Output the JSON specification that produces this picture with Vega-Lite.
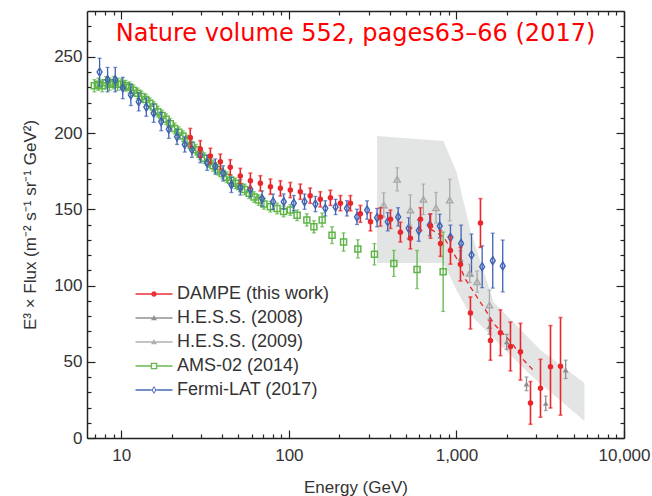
{
"$schema": "https://vega.github.io/schema/vega-lite/v6.json",
"width": 537, "height": 427,
"autosize": {"type": "none"},
"padding": {"left": 87, "top": 11, "right": 28, "bottom": 58},
"background": "white",
"title": {"text": "Nature volume 552, pages63–66 (2017)", "color": "#ff0000", "font": "DejaVu Sans", "fontSize": 24, "fontWeight": "normal", "anchor": "middle", "frame": "group", "orient": "top", "offset": -29, "dy": 26, "baseline": "alphabetic"},
"config": {
  "view": {"stroke": null},
  "axis": {"grid": false, "domainColor": "#222", "domainWidth": 1.5, "tickColor": "#222", "tickWidth": 1.2, "labelFont": "Liberation Sans", "labelFontSize": 17, "labelColor": "#333", "titleFont": "Liberation Sans", "titleFontSize": 17, "titleColor": "#333", "titleFontWeight": "normal", "labelOverlap": false, "labelFlush": false}
},
"resolve": {"axis": {"x": "independent", "y": "independent"}},
"datasets": {
  "band": [
    {"E": 336, "hi": 198, "lo": 114.7},
    {"E": 836, "hi": 194.7, "lo": 114.7},
    {"E": 1000, "hi": 174.6, "lo": 97},
    {"E": 1212, "hi": 136.4, "lo": 80.7},
    {"E": 1663, "hi": 89.2, "lo": 65.5},
    {"E": 2767, "hi": 64.4, "lo": 41.3},
    {"E": 3174, "hi": 57.7, "lo": 35.7},
    {"E": 5807, "hi": 36.1, "lo": 11.1}
  ],
  "fit": [
    {"E": 700, "y": 137}, {"E": 836, "y": 132}, {"E": 1000, "y": 118}, {"E": 1132, "y": 104}, {"E": 1298, "y": 94}, {"E": 1490, "y": 84}, {"E": 1670, "y": 75}, {"E": 2152, "y": 62}, {"E": 2524, "y": 51}, {"E": 2900, "y": 44}
  ],
  "ams": [
    {"E": 6.9, "y": 231, "lo": 227, "hi": 235},
    {"E": 7.3, "y": 232, "lo": 228, "hi": 236},
    {"E": 7.7, "y": 231, "lo": 227, "hi": 235},
    {"E": 8.1, "y": 233, "lo": 229, "hi": 237},
    {"E": 8.5, "y": 232, "lo": 228, "hi": 236},
    {"E": 9.0, "y": 233, "lo": 229, "hi": 237},
    {"E": 9.5, "y": 232, "lo": 228, "hi": 236},
    {"E": 10.0, "y": 232, "lo": 228.5, "hi": 235.5},
    {"E": 10.6, "y": 231, "lo": 227.5, "hi": 234.5},
    {"E": 11.2, "y": 230, "lo": 226.5, "hi": 233.5},
    {"E": 11.8, "y": 228, "lo": 224.5, "hi": 231.5},
    {"E": 12.5, "y": 226, "lo": 222.5, "hi": 229.5},
    {"E": 13.2, "y": 224, "lo": 220.5, "hi": 227.5},
    {"E": 14.0, "y": 222, "lo": 218.5, "hi": 225.5},
    {"E": 14.8, "y": 219.5, "lo": 216, "hi": 223},
    {"E": 15.6, "y": 217, "lo": 213.5, "hi": 220.5},
    {"E": 16.5, "y": 214, "lo": 210.5, "hi": 217.5},
    {"E": 17.5, "y": 211.5, "lo": 208, "hi": 215},
    {"E": 18.5, "y": 209, "lo": 205.5, "hi": 212.5},
    {"E": 19.6, "y": 206, "lo": 202.5, "hi": 209.5},
    {"E": 20.8, "y": 203, "lo": 199.5, "hi": 206.5},
    {"E": 22.0, "y": 200.5, "lo": 197, "hi": 204},
    {"E": 23.3, "y": 198, "lo": 194.5, "hi": 201.5},
    {"E": 24.7, "y": 195, "lo": 191.5, "hi": 198.5},
    {"E": 26.2, "y": 192, "lo": 188.5, "hi": 195.5},
    {"E": 27.8, "y": 189, "lo": 185.5, "hi": 192.5},
    {"E": 29.5, "y": 186, "lo": 182.5, "hi": 189.5},
    {"E": 31.3, "y": 183.5, "lo": 180, "hi": 187},
    {"E": 33.2, "y": 181, "lo": 177.5, "hi": 184.5},
    {"E": 35.3, "y": 178.5, "lo": 175, "hi": 182},
    {"E": 37.5, "y": 176, "lo": 172.5, "hi": 179.5},
    {"E": 40.0, "y": 173.5, "lo": 170, "hi": 177},
    {"E": 42.5, "y": 171, "lo": 167.5, "hi": 174.5},
    {"E": 45.0, "y": 169, "lo": 165.5, "hi": 172.5},
    {"E": 48.0, "y": 167, "lo": 163.5, "hi": 170.5},
    {"E": 51.0, "y": 165, "lo": 161.5, "hi": 168.5},
    {"E": 54.5, "y": 163, "lo": 159.5, "hi": 166.5},
    {"E": 58.0, "y": 160.5, "lo": 157, "hi": 164},
    {"E": 62.0, "y": 158, "lo": 154.5, "hi": 161.5},
    {"E": 66.0, "y": 156, "lo": 152.5, "hi": 159.5},
    {"E": 71.0, "y": 153.5, "lo": 150, "hi": 157},
    {"E": 77.6, "y": 151.7, "lo": 148.2, "hi": 155.2},
    {"E": 85, "y": 150.5, "lo": 147, "hi": 154},
    {"E": 93, "y": 148.5, "lo": 145, "hi": 152},
    {"E": 102, "y": 149.5, "lo": 146, "hi": 153},
    {"E": 112, "y": 146, "lo": 142.5, "hi": 149.5},
    {"E": 128, "y": 143, "lo": 139, "hi": 147},
    {"E": 141, "y": 138.5, "lo": 134.5, "hi": 142.5},
    {"E": 158, "y": 143, "lo": 138.5, "hi": 147.5},
    {"E": 181, "y": 133, "lo": 127.5, "hi": 138.5},
    {"E": 212, "y": 128.5, "lo": 122.5, "hi": 134.5},
    {"E": 258, "y": 124, "lo": 118, "hi": 130},
    {"E": 324, "y": 120.5, "lo": 113.5, "hi": 127.5},
    {"E": 423, "y": 114.5, "lo": 106, "hi": 123},
    {"E": 582, "y": 110.5, "lo": 98, "hi": 123},
    {"E": 833, "y": 109, "lo": 83, "hi": 135}
  ],
  "fermi": [
    {"E": 7.42, "y": 240, "lo": 231, "hi": 249},
    {"E": 8.28, "y": 235, "lo": 227, "hi": 243},
    {"E": 9.2, "y": 235, "lo": 227, "hi": 243},
    {"E": 10.2, "y": 229.5, "lo": 222.5, "hi": 236.5},
    {"E": 11.4, "y": 225, "lo": 218, "hi": 232},
    {"E": 12.7, "y": 220.5, "lo": 214.5, "hi": 226.5},
    {"E": 14.1, "y": 217, "lo": 211, "hi": 223},
    {"E": 15.6, "y": 213, "lo": 207, "hi": 219},
    {"E": 17.3, "y": 207.5, "lo": 201.5, "hi": 213.5},
    {"E": 19.2, "y": 202.5, "lo": 196.5, "hi": 208.5},
    {"E": 21.5, "y": 197.5, "lo": 192.5, "hi": 202.5},
    {"E": 23.9, "y": 192.5, "lo": 187.5, "hi": 197.5},
    {"E": 26.4, "y": 189, "lo": 184, "hi": 194},
    {"E": 29.6, "y": 185.5, "lo": 180.5, "hi": 190.5},
    {"E": 32.5, "y": 180.5, "lo": 175.5, "hi": 185.5},
    {"E": 36.4, "y": 178, "lo": 173, "hi": 183},
    {"E": 40.5, "y": 173.5, "lo": 168.5, "hi": 178.5},
    {"E": 45.4, "y": 166, "lo": 161, "hi": 171},
    {"E": 51.3, "y": 164.3, "lo": 159.3, "hi": 169.3},
    {"E": 58.9, "y": 163, "lo": 158, "hi": 168},
    {"E": 69.2, "y": 157, "lo": 152, "hi": 162},
    {"E": 80.5, "y": 155, "lo": 150, "hi": 160},
    {"E": 93.2, "y": 155, "lo": 150, "hi": 160},
    {"E": 107, "y": 154, "lo": 149, "hi": 159},
    {"E": 124, "y": 155, "lo": 150, "hi": 160},
    {"E": 144, "y": 153.4, "lo": 148.4, "hi": 158.4},
    {"E": 165, "y": 150.6, "lo": 145.6, "hi": 155.6},
    {"E": 190, "y": 151.5, "lo": 146.5, "hi": 156.5},
    {"E": 222, "y": 150.6, "lo": 145.6, "hi": 155.6},
    {"E": 255, "y": 145, "lo": 140, "hi": 150},
    {"E": 293, "y": 149.5, "lo": 143.5, "hi": 155.5},
    {"E": 336, "y": 144.5, "lo": 138.5, "hi": 150.5},
    {"E": 389, "y": 141.8, "lo": 135.8, "hi": 147.8},
    {"E": 449, "y": 145, "lo": 139, "hi": 151},
    {"E": 519, "y": 137.5, "lo": 130.5, "hi": 144.5},
    {"E": 596, "y": 136, "lo": 129, "hi": 143},
    {"E": 693, "y": 139.7, "lo": 132.7, "hi": 146.7},
    {"E": 795, "y": 139, "lo": 131.3, "hi": 146.7},
    {"E": 921, "y": 131.6, "lo": 123.6, "hi": 139.6},
    {"E": 1066, "y": 127.6, "lo": 115.6, "hi": 139.6},
    {"E": 1230, "y": 120, "lo": 106.3, "hi": 133.7},
    {"E": 1424, "y": 112.3, "lo": 98.6, "hi": 126},
    {"E": 1647, "y": 116.3, "lo": 98.3, "hi": 134.3},
    {"E": 1889, "y": 112.8, "lo": 95.8, "hi": 129.8}
  ],
  "hess09": [
    {"E": 368, "y": 152.8, "lo": 144.8, "hi": 160.8},
    {"E": 443, "y": 169.6, "lo": 162, "hi": 177.2},
    {"E": 531, "y": 149.5, "lo": 139.5, "hi": 159.5},
    {"E": 635, "y": 156.5, "lo": 146.5, "hi": 166.5},
    {"E": 755, "y": 151, "lo": 141, "hi": 161},
    {"E": 912, "y": 156, "lo": 142.3, "hi": 169.7},
    {"E": 1200, "y": 108, "lo": 102, "hi": 114},
    {"E": 1329, "y": 102.5, "lo": 95.5, "hi": 109.5},
    {"E": 1574, "y": 87.2, "lo": 77, "hi": 97}
  ],
  "hess08": [
    {"E": 1057, "y": 117.8, "lo": 112.8, "hi": 122.8},
    {"E": 1574, "y": 73, "lo": 68, "hi": 78},
    {"E": 1996, "y": 63, "lo": 58, "hi": 68},
    {"E": 2619, "y": 35.4, "lo": 31, "hi": 40},
    {"E": 3412, "y": 22.7, "lo": 18, "hi": 27.5},
    {"E": 4488, "y": 44.6, "lo": 39, "hi": 51}
  ],
  "dampe": [
    {"E": 25.8, "y": 197, "lo": 191, "hi": 203},
    {"E": 29.6, "y": 189.5, "lo": 184, "hi": 195},
    {"E": 34.0, "y": 185, "lo": 180, "hi": 190},
    {"E": 39.0, "y": 181.2, "lo": 176.2, "hi": 186.2},
    {"E": 44.7, "y": 177.5, "lo": 172.5, "hi": 182.5},
    {"E": 51.3, "y": 171.8, "lo": 166.8, "hi": 176.8},
    {"E": 58.9, "y": 168.7, "lo": 163.7, "hi": 173.7},
    {"E": 67.6, "y": 167, "lo": 162, "hi": 172},
    {"E": 77.6, "y": 164.8, "lo": 159.8, "hi": 169.8},
    {"E": 89.0, "y": 163.7, "lo": 158.7, "hi": 168.7},
    {"E": 102, "y": 162.6, "lo": 157.6, "hi": 167.6},
    {"E": 117, "y": 161.5, "lo": 156.5, "hi": 166.5},
    {"E": 134, "y": 158.9, "lo": 153.9, "hi": 163.9},
    {"E": 154, "y": 156.5, "lo": 151.5, "hi": 161.5},
    {"E": 177, "y": 157.5, "lo": 152.5, "hi": 162.5},
    {"E": 203, "y": 154, "lo": 149, "hi": 159},
    {"E": 233, "y": 154, "lo": 149, "hi": 159},
    {"E": 267, "y": 147, "lo": 141.5, "hi": 152.5},
    {"E": 307, "y": 141.8, "lo": 135.8, "hi": 147.8},
    {"E": 352, "y": 145, "lo": 139, "hi": 151},
    {"E": 404, "y": 143.4, "lo": 137.4, "hi": 149.4},
    {"E": 463, "y": 135, "lo": 128.5, "hi": 141.5},
    {"E": 531, "y": 131, "lo": 124, "hi": 138},
    {"E": 610, "y": 143.5, "lo": 136, "hi": 151},
    {"E": 700, "y": 139, "lo": 131, "hi": 147},
    {"E": 803, "y": 127.6, "lo": 119.1, "hi": 136.1},
    {"E": 921, "y": 123, "lo": 114, "hi": 132},
    {"E": 1057, "y": 114, "lo": 103, "hi": 125},
    {"E": 1212, "y": 82, "lo": 71.5, "hi": 92.5},
    {"E": 1391, "y": 141, "lo": 125, "hi": 157},
    {"E": 1596, "y": 64, "lo": 51, "hi": 77},
    {"E": 1831, "y": 69, "lo": 54, "hi": 84},
    {"E": 2101, "y": 60, "lo": 44, "hi": 76},
    {"E": 2411, "y": 56.6, "lo": 38, "hi": 75.2},
    {"E": 2766, "y": 23, "lo": 9, "hi": 37},
    {"E": 3174, "y": 32.6, "lo": 13.6, "hi": 51.6},
    {"E": 3642, "y": 46.7, "lo": 19.7, "hi": 73.7},
    {"E": 4179, "y": 47, "lo": 15, "hi": 79}
  ]
},
"layer": [
  {
    "data": {"name": "band"},
    "mark": {"type": "area", "color": "#e3e4e4"},
    "encoding": {
      "x": {"field": "E", "type": "quantitative", "scale": {"type": "log", "domain": [6.24, 10000], "nice": false},
        "axis": {"orient": "bottom", "title": "Energy (GeV)", "values": [7,8,9,10,20,30,40,50,60,70,80,90,100,200,300,400,500,600,700,800,900,1000,2000,3000,4000,5000,6000,7000,8000,9000,10000],
          "labelExpr": "indexof([10,100,1000,10000], datum.value) >= 0 ? format(datum.value, ',') : ''",
          "tickSize": {"condition": {"test": "indexof([10,100,1000,10000], datum.value) >= 0", "value": -8}, "value": -4},
          "labelPadding": 17, "titlePadding": 12}},
      "y": {"field": "hi", "type": "quantitative", "scale": {"domain": [0, 280], "nice": false},
        "axis": {"orient": "left", "title": "E³ × Flux (m⁻² s⁻¹ sr⁻¹ GeV²)", "values": [0,10,20,30,40,50,60,70,80,90,100,110,120,130,140,150,160,170,180,190,200,210,220,230,240,250,260,270],
          "labelExpr": "datum.value % 50 === 0 ? datum.label : ''",
          "tickSize": {"condition": {"test": "datum.value % 50 === 0", "value": -8}, "value": -4},
          "labelPadding": 13, "titlePadding": 14}},
      "y2": {"field": "lo"}
    }
  },
  {
    "data": {"name": "ams"},
    "mark": {"type": "errorbar", "color": "#5fb548", "thickness": 1.3, "ticks": {"size": 4}},
    "encoding": {
      "x": {"field": "E", "type": "quantitative", "axis": null},
      "y": {"field": "lo", "type": "quantitative", "axis": null},
      "y2": {"field": "hi"}
    }
  },
  {
    "data": {"name": "ams"},
    "mark": {"type": "point", "shape": "square", "filled": false, "size": 36, "strokeWidth": 1.5, "opacity": 1, "color": "#5fb548"},
    "encoding": {
      "x": {"field": "E", "type": "quantitative", "axis": null},
      "y": {"field": "y", "type": "quantitative", "axis": null}
    }
  },
  {
    "data": {"name": "fermi"},
    "mark": {"type": "errorbar", "color": "#3e62b3", "thickness": 1.3, "ticks": {"size": 4}},
    "encoding": {
      "x": {"field": "E", "type": "quantitative", "axis": null},
      "y": {"field": "lo", "type": "quantitative", "axis": null},
      "y2": {"field": "hi"}
    }
  },
  {
    "data": {"name": "fermi"},
    "mark": {"type": "point", "shape": "M0,-1L0.62,0L0,1L-0.62,0Z", "filled": false, "size": 64, "strokeWidth": 1.4, "opacity": 1, "color": "#3e62b3"},
    "encoding": {
      "x": {"field": "E", "type": "quantitative", "axis": null},
      "y": {"field": "y", "type": "quantitative", "axis": null}
    }
  },
  {
    "data": {"name": "hess09"},
    "mark": {"type": "errorbar", "color": "#a8a8a8", "thickness": 1.3, "ticks": {"size": 4}},
    "encoding": {
      "x": {"field": "E", "type": "quantitative", "axis": null},
      "y": {"field": "lo", "type": "quantitative", "axis": null},
      "y2": {"field": "hi"}
    }
  },
  {
    "data": {"name": "hess09"},
    "mark": {"type": "point", "shape": "triangle-up", "filled": false, "size": 40, "strokeWidth": 1.4, "opacity": 1, "color": "#a8a8a8"},
    "encoding": {
      "x": {"field": "E", "type": "quantitative", "axis": null},
      "y": {"field": "y", "type": "quantitative", "axis": null}
    }
  },
  {
    "data": {"name": "hess08"},
    "mark": {"type": "errorbar", "color": "#8c8c8c", "thickness": 1.3, "ticks": {"size": 4}},
    "encoding": {
      "x": {"field": "E", "type": "quantitative", "axis": null},
      "y": {"field": "lo", "type": "quantitative", "axis": null},
      "y2": {"field": "hi"}
    }
  },
  {
    "data": {"name": "hess08"},
    "mark": {"type": "point", "shape": "triangle-up", "filled": true, "size": 32, "opacity": 1, "color": "#8c8c8c"},
    "encoding": {
      "x": {"field": "E", "type": "quantitative", "axis": null},
      "y": {"field": "y", "type": "quantitative", "axis": null}
    }
  },
  {
    "data": {"name": "fit"},
    "mark": {"type": "line", "color": "#e8262b", "strokeWidth": 1.3, "strokeDash": [5, 4]},
    "encoding": {
      "x": {"field": "E", "type": "quantitative",
        "axis": {"orient": "top", "title": null, "labels": false, "values": [7,8,9,10,20,30,40,50,60,70,80,90,100,200,300,400,500,600,700,800,900,1000,2000,3000,4000,5000,6000,7000,8000,9000,10000],
          "tickSize": {"condition": {"test": "indexof([10,100,1000,10000], datum.value) >= 0", "value": -8}, "value": -4}}},
      "y": {"field": "y", "type": "quantitative",
        "axis": {"orient": "right", "title": null, "labels": false, "values": [0,10,20,30,40,50,60,70,80,90,100,110,120,130,140,150,160,170,180,190,200,210,220,230,240,250,260,270],
          "tickSize": {"condition": {"test": "datum.value % 50 === 0", "value": -8}, "value": -4}}}
    }
  },
  {
    "data": {"name": "dampe"},
    "mark": {"type": "errorbar", "color": "#e8262b", "thickness": 1.6, "ticks": {"size": 4}},
    "encoding": {
      "x": {"field": "E", "type": "quantitative", "axis": null},
      "y": {"field": "lo", "type": "quantitative", "axis": null},
      "y2": {"field": "hi"}
    }
  },
  {
    "data": {"name": "dampe"},
    "mark": {"type": "point", "shape": "circle", "filled": true, "size": 30, "opacity": 1, "color": "#e8262b"},
    "encoding": {
      "x": {"field": "E", "type": "quantitative", "axis": null},
      "y": {"field": "y", "type": "quantitative", "axis": null}
    }
  },
  {
    "data": {"name": "dampe"},
    "mark": {"type": "point", "filled": true, "opacity": 0, "size": 100},
    "encoding": {
      "x": {"field": "E", "type": "quantitative", "axis": null},
      "y": {"field": "y", "type": "quantitative", "axis": null},
      "color": {"datum": "DAMPE (this work)", "type": "nominal",
        "scale": {"domain": ["DAMPE (this work)", "H.E.S.S. (2008)", "H.E.S.S. (2009)", "AMS-02 (2014)", "Fermi-LAT (2017)"], "range": ["#e8262b", "#8c8c8c", "#ababab", "#5fb548", "#3e62b3"]},
        "legend": {"title": null, "orient": "none", "legendX": 58, "legendY": 274, "padding": 0, "symbolSize": 100, "symbolStrokeWidth": 0, "symbolOpacity": 0.95, "labelOffset": 14, "rowPadding": 6, "labelFont": "Liberation Sans", "labelFontSize": 18, "labelColor": "#333"}},
      "shape": {"datum": "DAMPE (this work)", "type": "nominal",
        "scale": {"domain": ["DAMPE (this work)", "H.E.S.S. (2008)", "H.E.S.S. (2009)", "AMS-02 (2014)", "Fermi-LAT (2017)"],
          "range": [
            "M-3.7,-0.15H3.7V0.15H-3.7ZM-0.55,0A0.55,0.55 0 1 1 0.55,0A0.55,0.55 0 1 1 -0.55,0Z",
            "M-3.7,-0.15H3.7V0.15H-3.7ZM0,-0.6L0.6,0.45L-0.6,0.45Z",
            "M-3.7,-0.15H3.7V0.15H-3.7ZM0,-0.6L0.6,0.45L-0.6,0.45Z",
            "M-3.7,-0.15H-0.65V0.15H-3.7ZM0.65,-0.15H3.7V0.15H0.65ZM-0.65,-0.65H0.65V0.65H-0.65ZM-0.38,-0.38V0.38H0.38V-0.38Z",
            "M-3.7,-0.15H-0.5V0.15H-3.7ZM0.5,-0.15H3.7V0.15H0.5ZM0,-0.8L0.5,0L0,0.8L-0.5,0ZM0,-0.5L-0.25,0L0,0.5L0.25,0Z"
          ]},
        "legend": {"title": null, "orient": "none", "legendX": 58, "legendY": 274, "padding": 0, "symbolSize": 100, "symbolStrokeWidth": 0, "symbolOpacity": 0.95, "labelOffset": 14, "rowPadding": 6, "labelFont": "Liberation Sans", "labelFontSize": 18, "labelColor": "#333"}}
    }
  }
]
}
